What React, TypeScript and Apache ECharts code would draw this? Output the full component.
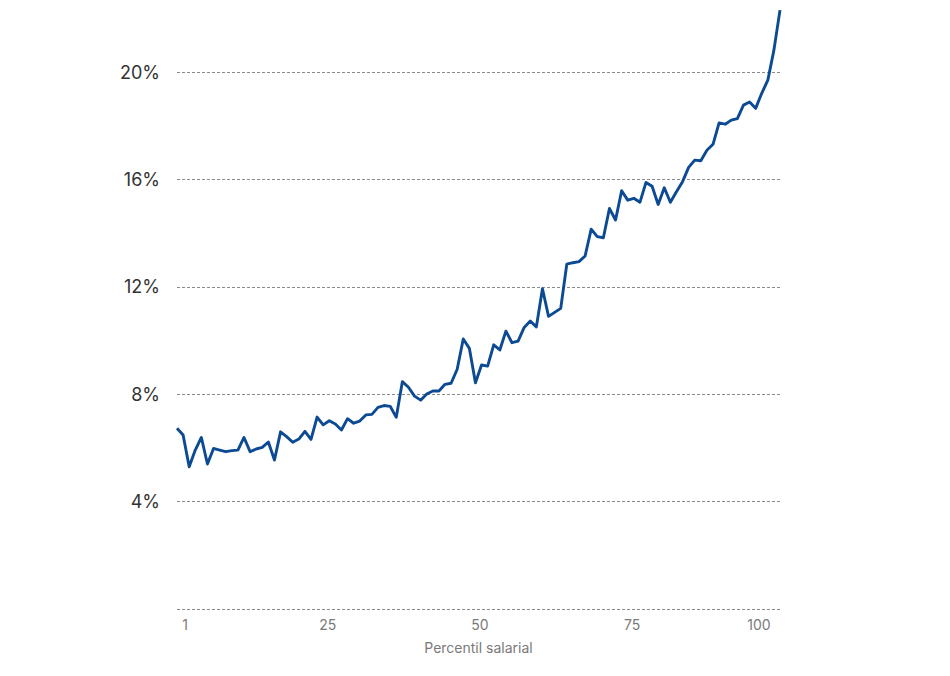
import React, { useEffect, useRef } from "react";
import * as echarts from "echarts";

const percentiles: string[] = Array.from({ length: 100 }, (_, i) => String(i + 1));

const tickLabels: number[] = [1, 25, 50, 75, 100];

const shareValues: number[] = [
  6.73, 6.48, 5.3, 5.92, 6.39, 5.4, 5.98, 5.92, 5.86, 5.9,
  5.92, 6.39, 5.86, 5.96, 6.02, 6.22, 5.55, 6.6, 6.42, 6.21,
  6.33, 6.62, 6.32, 7.15, 6.86, 7.01, 6.89, 6.67, 7.09, 6.92,
  7.0, 7.23, 7.25, 7.51, 7.58, 7.55, 7.14, 8.47, 8.26, 7.93,
  7.78, 8.01, 8.12, 8.12, 8.37, 8.41, 8.93, 10.06, 9.71, 8.43,
  9.09, 9.05, 9.84, 9.65, 10.35, 9.92, 9.98, 10.49, 10.73, 10.51,
  11.93, 10.9, 11.05, 11.2, 12.85, 12.9, 12.94, 13.15, 14.15, 13.87,
  13.83, 14.92, 14.49, 15.58, 15.23, 15.3, 15.15, 15.89, 15.75, 15.07,
  15.69, 15.15, 15.54, 15.92, 16.45, 16.72, 16.7, 17.09, 17.31, 18.11,
  18.06, 18.21, 18.27, 18.77, 18.89, 18.65, 19.21, 19.7, 20.82, 22.31,
];

const yTicks: number[] = [0, 4, 8, 12, 16, 20];

export default function App() {
  const ref = useRef<HTMLDivElement>(null);

  useEffect(() => {
    if (!ref.current) return;
    const chart = echarts.init(ref.current, undefined, { renderer: "svg" });
    const labelSet = new Set(tickLabels.map((v) => v - 1));
    chart.setOption({
      animation: false,
      backgroundColor: "#ffffff",
      grid: { left: 177, right: 170, top: 5, bottom: 67, containLabel: false },
      xAxis: {
        type: "category",
        data: percentiles,
        boundaryGap: false,
        axisLine: { show: false },
        axisTick: { show: false },
        splitLine: { show: false },
        name: "Percentil salarial",
        nameLocation: "middle",
        nameGap: 31,
        nameTextStyle: { fontFamily: "Inter", fontSize: 14, color: "#7a7a7a" },
        axisLabel: {
          interval: (idx: number) => labelSet.has(idx),
          margin: 8,
          fontFamily: "Inter",
          fontSize: 14,
          color: "#7a7a7a",
          formatter: (val: string) => {
            if (val === "1") return "{s|" + val + "}";
            if (val === "100") return "{e|" + val + "}";
            return "{m|" + val + "}";
          },
          rich: {
            s: { fontFamily: "Inter", fontSize: 14, color: "#7a7a7a", padding: [0, 0, 0, 16] },
            m: { fontFamily: "Inter", fontSize: 14, color: "#7a7a7a", padding: [0, 0, 0, 9] },
            e: { fontFamily: "Inter", fontSize: 14, color: "#7a7a7a", padding: [0, 42, 0, 0] },
          },
        },
      },
      yAxis: {
        type: "value",
        min: 0,
        max: 22.5,
        interval: 4,
        axisLine: { show: false },
        axisTick: { show: false },
        axisLabel: {
          margin: 17,
          fontFamily: "Inter",
          fontSize: 18,
          color: "#333333",
          showMinLabel: false,
          showMaxLabel: false,
          formatter: (v: number) => (yTicks.includes(v) && v !== 0 ? v + "%" : ""),
        },
        splitLine: {
          show: true,
          showMaxLine: false,
          lineStyle: { color: "#8a8a8a", width: 1, type: [3, 2] },
        },
      },
      series: [
        {
          type: "line",
          data: shareValues,
          symbol: "none",
          lineStyle: { color: "#0d4a94", width: 2.9, join: "round" },
          itemStyle: { color: "#0d4a94" },
          clip: false,
        },
      ],
    });
    return () => chart.dispose();
  }, []);

  return (
    <div
      ref={ref}
      style={{ position: "absolute", left: 0, top: 0, width: 950, height: 676 }}
    />
  );
}
